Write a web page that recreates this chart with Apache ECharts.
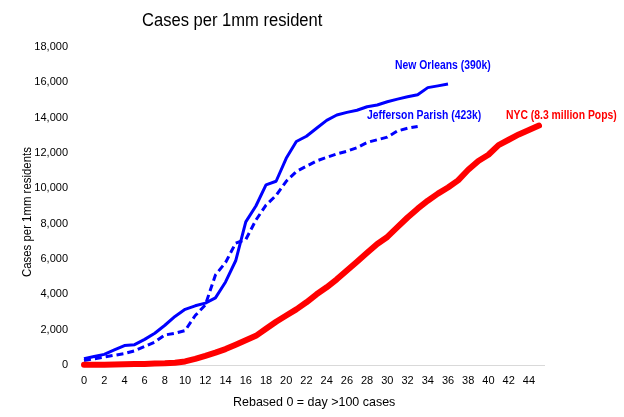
<!DOCTYPE html>
<html><head><meta charset="utf-8">
<script src="https://cdn.jsdelivr.net/npm/echarts@6/dist/echarts.min.js"></script>
<style>html,body{margin:0;padding:0;background:#fff}#c{width:624px;height:417px}</style>
</head><body><div id="c"></div>
<script>
const days = Array.from({length:46},(_, i)=>String(i));
const newOrleans = [350,480,600,850,1100,1150,1450,1800,2250,2750,3150,3350,3500,3800,4700,5900,8100,9000,10200,10400,11700,12650,12950,13400,13850,14150,14300,14420,14620,14720,14900,15050,15180,15300,15700,15800,15900];
const jefferson = [250,350,450,550,650,800,1050,1300,1700,1800,1950,2800,3400,5100,5800,6900,7100,8200,9050,9600,10400,10950,11250,11550,11750,11950,12100,12300,12600,12750,12900,13250,13400,13500];
const nyc = [12,15,20,30,40,50,60,80,100,130,200,350,520,700,900,1150,1400,1650,2050,2450,2800,3150,3550,4000,4400,4850,5350,5850,6350,6850,7250,7800,8350,8850,9300,9700,10050,10450,11050,11550,11900,12450,12750,13050,13300,13550];
const seriesNames = ['New Orleans (390k)','Jefferson Parish (423k)','NYC (8.3 million Pops)'];
const F = "'Liberation Sans',Arial,sans-serif";
const chart = echarts.init(document.getElementById('c'));
function txt(x,y,s,font,fill,sx,extra){
  return Object.assign({type:'text',x:x,y:y,scaleX:sx,style:{text:s,font:font,fill:fill,textVerticalAlign:'middle'}},extra||{});
}
chart.setOption({
  animation:false,
  grid:{left:84,right:85,top:47,bottom:52},
  xAxis:{type:'category',data:days,boundaryGap:false,
    axisLine:{lineStyle:{color:'#d9d9d9',width:1}},axisTick:{show:false},
    axisLabel:{interval:1,fontFamily:F,fontSize:11,color:'#000',margin:10}},
  yAxis:{type:'value',min:0,max:18000,interval:2000,
    splitLine:{show:false},axisLine:{show:false},axisTick:{show:false},
    axisLabel:{fontFamily:F,fontSize:11,color:'#000',margin:16,formatter:v=>v.toLocaleString('en-US')}},
  series:[
    {name:seriesNames[0],type:'line',data:newOrleans,showSymbol:false,lineStyle:{color:'#0000ff',width:3},itemStyle:{color:'#0000ff'}},
    {name:seriesNames[1],type:'line',data:jefferson,showSymbol:false,lineStyle:{color:'#0000ff',width:3,type:[7,4]},itemStyle:{color:'#0000ff'}},
    {name:seriesNames[2],type:'line',data:nyc,showSymbol:false,lineStyle:{color:'#ff0000',width:6,cap:'round'},itemStyle:{color:'#ff0000'}}
  ],
  graphic:[
    {type:'line',shape:{x1:539,y1:365.5,x2:545,y2:365.5},style:{stroke:'#d9d9d9',lineWidth:1}},
    txt(142,21,'Cases per 1mm resident',"18px "+F,'#000',0.92),
    txt(395,66,seriesNames[0],"bold 12px "+F,'#0000ff',0.865),
    txt(367,116,seriesNames[1],"bold 12px "+F,'#0000ff',0.865),
    txt(506,116,seriesNames[2],"bold 12px "+F,'#ff0000',0.865),
    txt(233,402,'Rebased 0 = day >100 cases',"13px "+F,'#000',0.96),
    txt(28,277,'Cases per 1mm residents',"12px "+F,'#000',0.95,{rotation:Math.PI/2})
  ]
});
</script></body></html>
